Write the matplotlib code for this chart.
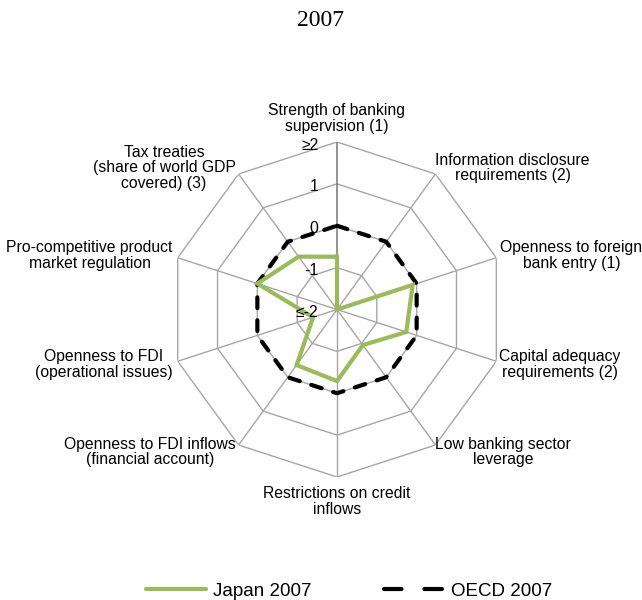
import numpy as np
import matplotlib
matplotlib.use("Agg")
import matplotlib.pyplot as plt
from matplotlib.lines import Line2D
from matplotlib import transforms

categories = [
    "Strength of banking\nsupervision (1)",
    "Information disclosure\nrequirements (2)",
    "Openness to foreign\nbank entry (1)",
    "Capital adequacy\nrequirements (2)",
    "Low banking sector\nleverage",
    "Restrictions on credit\ninflows",
    "Openness to FDI inflows\n(financial account)",
    "Openness to FDI\n(operational issues)",
    "Pro-competitive product\nmarket regulation",
    "Tax treaties\n(share of world GDP\ncovered) (3)",
]
japan_2007 = [-0.74, -2.0, -0.1, -0.26, -0.95, -0.29, -0.36, -1.4, 0.0, -0.44]
oecd_2007 = [0, 0, 0, 0, 0, 0, 0, 0, 0, 0]
ring_values = [-2, -1, 0, 1, 2]
ring_labels = ["\u2264-2", "-1", "0", "1", "\u22652"]

fig = plt.figure(figsize=(6.42, 6.0), dpi=100)
cx, cy, R = 337.0, 309.5, 167.5
W, H = 642.0, 600.0
ax = fig.add_axes([(cx - R) / W, (H - cy - R) / H, 2 * R / W, 2 * R / H], projection="polar")
ax.set_theta_offset(np.pi / 2)
ax.set_theta_direction(-1)
ax.set_ylim(-2, 2)
ax.grid(False)
ax.set_xticks([])
ax.set_yticks([])
ax.spines["polar"].set_visible(False)
ax.patch.set_visible(False)

n = len(categories)
theta = np.arange(n) * 2 * np.pi / n
theta_c = np.concatenate([theta, theta[:1]])

# polygon rings
for rv in ring_values[1:]:
    ax.plot(theta_c, [rv] * (n + 1), color="#a6a6a6", lw=1.0, zorder=1)
# spokes
for i, t in enumerate(theta):
    ax.plot([t, t], [-2, 2], color="#808080" if i == 0 else "#a6a6a6",
            lw=1.2 if i == 0 else 1.0, zorder=1)

def close(v):
    return list(v) + [v[0]]

ax.plot(theta_c, close(oecd_2007), color="black", lw=3.0,
        linestyle=(0, (2.6, 2.9)), dash_capstyle="round", zorder=3)
ax.plot(theta_c, close(japan_2007), color="#9BBB59", lw=3.0, zorder=4,
        solid_joinstyle="miter")

font = ["Liberation Sans", "DejaVu Sans"]

# radial tick labels
for rv, lab in zip(ring_values, ring_labels):
    tr = transforms.offset_copy(ax.transData, fig=fig, x=-13.5, y=-2.2, units="points")
    ax.text(0, rv, lab, transform=tr, ha="right", va="center", fontsize=11.3,
            family=font, color="black", zorder=5)

# category labels: (ha, va, dx px, dy px)
placements = [
    ("center", "bottom", 0, 8),
    ("left", "center", 0, 6),
    ("left", "center", 4, 2),
    ("left", "center", 3, -3),
    ("left", "center", 0, -7),
    ("center", "top", 0, -9),
    ("right", "center", -3, -7),
    ("right", "center", -5, -3),
    ("right", "center", -5, 2),
    ("right", "center", -3, 6),
]
for t, lab, (ha, va, dx, dy) in zip(theta, categories, placements):
    tr = transforms.offset_copy(ax.transData, fig=fig, x=dx * 0.72, y=dy * 0.72, units="points")
    ax.text(t, 2, lab, transform=tr, ha=ha, va=va, multialignment="center",
            fontsize=11.3, family=font, linespacing=1.08, color="black")

fig.text(0.5, 1 - 20 / H, "2007", ha="center", va="center", fontsize=17,
         family=["Liberation Serif", "DejaVu Serif"])

handles = [
    Line2D([], [], color="#9BBB59", lw=3.0, solid_capstyle="round"),
    Line2D([], [], color="black", lw=3.0, linestyle=(0, (4.2, 5.5)), dash_capstyle="round"),
]
fig.legend(handles, ["Japan 2007", "OECD 2007"], loc="center",
           bbox_to_anchor=(0.544, 1 - 591 / H), ncol=2, frameon=False,
           prop={"family": "Liberation Sans", "size": 13.5},
           handlelength=3.2, handletextpad=0.35, columnspacing=3.9, borderpad=0)

fig.savefig("out.png", dpi=100)
